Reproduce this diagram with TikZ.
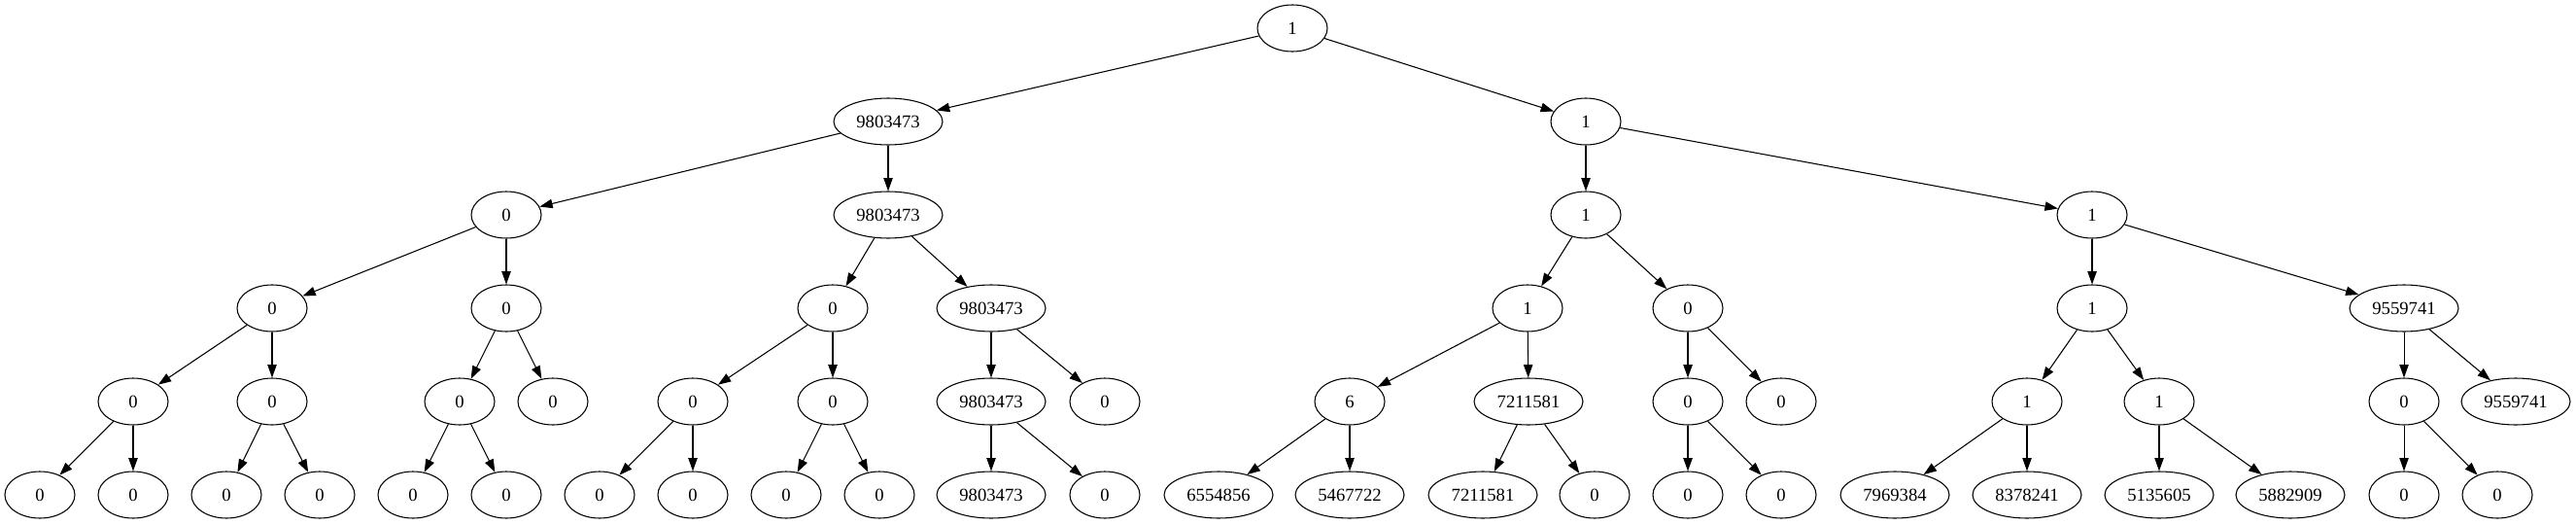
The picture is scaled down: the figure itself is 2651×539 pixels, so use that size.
\documentclass[tikz,border=0pt]{standalone}
\usepackage{fontspec}
\setmainfont{Liberation Serif}
\usepackage{tikz}
\usetikzlibrary{shapes.geometric,arrows.meta}
\newcommand{\treeFont}{\fontsize{14pt}{16pt}\selectfont}
\tikzstyle{treeCanvas} = [x = .75pt, y = -.75pt]
\tikzstyle{valueNode} = [draw, ellipse, line width = .8pt, inner sep = 0pt, minimum width = 54pt, minimum height = 36pt, font = \treeFont]
\tikzstyle{wideValueNode} = [valueNode, minimum width = 84pt]
\tikzstyle{treeEdge} = [-{Triangle[length = 10pt, width = 7pt]}, line width = .8pt]
\newcommand{\valueNode}[4]{\node [valueNode] (#1) at (#2, #3) {#4};}
\newcommand{\wideNode}[4]{\node [wideValueNode] (#1) at (#2, #3) {#4};}
\begin{document}
\begin{tikzpicture}[treeCanvas]
  \useasboundingbox (0, 0) rectangle (2651, 539);
  % rank 0 and 1
  \valueNode{r}{1330}{29}{1}
  \wideNode{rL}{914}{125}{9803473}
  \valueNode{rR}{1632}{125}{1}
  % rank 2
  \valueNode{rLL}{521}{221}{0}
  \wideNode{rLR}{914}{221}{9803473}
  \valueNode{rRL}{1632}{221}{1}
  \valueNode{rRR}{2153}{221}{1}
  % rank 3
  \valueNode{rLLL}{280}{317}{0}
  \valueNode{rLLR}{521}{317}{0}
  \valueNode{rLRL}{857}{317}{0}
  \wideNode{rLRR}{1020}{317}{9803473}
  \valueNode{rRLL}{1572}{317}{1}
  \valueNode{rRLR}{1737}{317}{0}
  \valueNode{rRRL}{2153}{317}{1}
  \wideNode{rRRR}{2474}{317}{9559741}
  % rank 4
  \valueNode{rLLLL}{137}{413}{0}
  \valueNode{rLLLR}{280}{413}{0}
  \valueNode{rLLRL}{473}{413}{0}
  \valueNode{rLLRR}{569}{413}{0}
  \valueNode{rLRLL}{713}{413}{0}
  \valueNode{rLRLR}{857}{413}{0}
  \wideNode{rLRRL}{1020}{413}{9803473}
  \valueNode{rLRRR}{1137}{413}{0}
  \valueNode{rRLLL}{1389}{413}{6}
  \wideNode{rRLLR}{1573}{413}{7211581}
  \valueNode{rRLRL}{1737}{413}{0}
  \valueNode{rRLRR}{1833}{413}{0}
  \valueNode{rRRLL}{2086}{413}{1}
  \valueNode{rRRLR}{2222}{413}{1}
  \valueNode{rRRRL}{2474}{413}{0}
  \wideNode{rRRRR}{2589}{413}{9559741}
  % rank 5
  \valueNode{rLLLLL}{41}{509}{0}
  \valueNode{rLLLLR}{137}{509}{0}
  \valueNode{rLLLRL}{233}{509}{0}
  \valueNode{rLLLRR}{329}{509}{0}
  \valueNode{rLLRLL}{425}{509}{0}
  \valueNode{rLLRLR}{521}{509}{0}
  \valueNode{rLRLLL}{617}{509}{0}
  \valueNode{rLRLLR}{713}{509}{0}
  \valueNode{rLRLRL}{809}{509}{0}
  \valueNode{rLRLRR}{905}{509}{0}
  \wideNode{rLRRLL}{1020}{509}{9803473}
  \valueNode{rLRRLR}{1137}{509}{0}
  \wideNode{rRLLLL}{1254}{509}{6554856}
  \wideNode{rRLLLR}{1389}{509}{5467722}
  \wideNode{rRLLRL}{1526}{509}{7211581}
  \valueNode{rRLLRR}{1641}{509}{0}
  \valueNode{rRLRLL}{1737}{509}{0}
  \valueNode{rRLRLR}{1833}{509}{0}
  \wideNode{rRRLLL}{1950}{509}{7969384}
  \wideNode{rRRLLR}{2086}{509}{8378241}
  \wideNode{rRRLRL}{2222}{509}{5135605}
  \wideNode{rRRLRR}{2357}{509}{5882909}
  \valueNode{rRRRLL}{2474}{509}{0}
  \valueNode{rRRRLR}{2570}{509}{0}
  % edges
  \foreach \parent in {r, rL, rR, rLL, rLR, rRL, rRR, rLLL, rLLR, rLRL, rLRR, rRLL, rRLR, rRRL, rRRR,
                       rLLLL, rLLLR, rLLRL, rLRLL, rLRLR, rLRRL, rRLLL, rRLLR, rRLRL, rRRLL, rRRLR, rRRRL} {
    \draw [treeEdge] (\parent) -- (\parent L);
    \draw [treeEdge] (\parent) -- (\parent R);
  }
\end{tikzpicture}
\end{document}
